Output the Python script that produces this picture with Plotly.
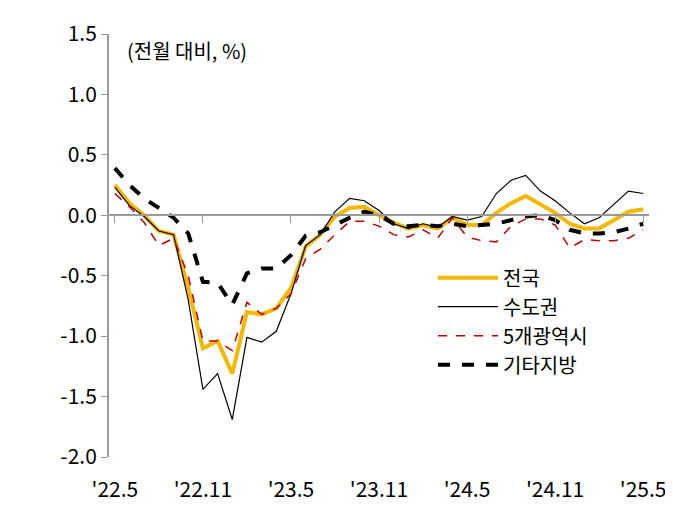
import plotly.graph_objects as go

months = list(range(37))
tick_pos = [0, 6, 12, 18, 24, 30, 36]
tick_text = ["'22.5", "'22.11", "'23.5", "'23.11", "'24.5", "'24.11", "'25.5"]
y_ticks = [-2.0, -1.5, -1.0, -0.5, 0.0, 0.5, 1.0, 1.5]
y_labels = ["-2.0", "-1.5", "-1.0", "-0.5", "0.0", "0.5", "1.0", "1.5"]

national = [0.25, 0.10, 0.0, -0.13, -0.16, -0.60, -1.10, -1.04, -1.31, -0.80, -0.82, -0.77, -0.60,
            -0.26, -0.16, -0.01, 0.06, 0.07, 0.0, -0.06, -0.11, -0.08, -0.11, -0.02, -0.08, -0.08,
            0.02, 0.10, 0.16, 0.09, 0.02, -0.07, -0.11, -0.11, -0.04, 0.03, 0.05]
capital = [0.23, 0.08, -0.01, -0.13, -0.16, -0.70, -1.44, -1.31, -1.69, -1.01, -1.05, -0.96, -0.65,
           -0.25, -0.16, 0.03, 0.14, 0.12, 0.04, -0.07, -0.11, -0.07, -0.10, -0.01, -0.04, -0.01,
           0.18, 0.29, 0.33, 0.20, 0.12, 0.02, -0.07, -0.02, 0.09, 0.20, 0.18]
metro = [0.18, 0.07, -0.06, -0.25, -0.19, -0.50, -1.04, -1.04, -1.12, -0.72, -0.82, -0.77, -0.65,
         -0.36, -0.28, -0.16, -0.05, -0.05, -0.09, -0.16, -0.18, -0.12, -0.19, -0.02, -0.18, -0.21,
         -0.22, -0.09, -0.03, -0.03, -0.08, -0.27, -0.20, -0.21, -0.21, -0.19, -0.12]
other = [0.39, 0.25, 0.14, 0.06, -0.02, -0.15, -0.55, -0.56, -0.74, -0.48, -0.44, -0.44, -0.33,
         -0.17, -0.14, -0.08, -0.02, 0.03, 0.0, -0.07, -0.09, -0.08, -0.09, -0.07, -0.09, -0.08,
         -0.07, -0.04, -0.01, 0.0, -0.04, -0.12, -0.15, -0.15, -0.14, -0.11, -0.07]

fig = go.Figure()
fig.add_trace(go.Scatter(x=months, y=national, name="전국", mode="lines",
                         line=dict(color="#F5B800", width=4)))
fig.add_trace(go.Scatter(x=months, y=capital, name="수도권", mode="lines",
                         line=dict(color="black", width=1.2)))
fig.add_trace(go.Scatter(x=months, y=metro, name="5개광역시", mode="lines",
                         line=dict(color="#C00000", width=1.5, dash="dash")))
fig.add_trace(go.Scatter(x=months, y=other, name="기타지방", mode="lines",
                         line=dict(color="black", width=4, dash="dash")))
fig.add_trace(go.Scatter(x=months, y=[None]*37, xaxis="x2", showlegend=False, hoverinfo="skip"))

fig.update_layout(
    width=673, height=510,
    margin=dict(l=101, r=32, t=26, b=61, autoexpand=False),
    paper_bgcolor="white", plot_bgcolor="white",
    font=dict(family="Noto Sans CJK KR", size=20, color="black"),
    showlegend=True,
    legend=dict(x=0.6, y=0.47, xanchor="left", yanchor="top", bgcolor="rgba(0,0,0,0)",
                font=dict(size=20), tracegroupgap=0, itemwidth=60),
    xaxis=dict(range=[-0.4, 36.4], tickvals=tick_pos, ticktext=tick_text, showline=False,
               showgrid=False, zeroline=False, ticks="outside", ticklen=14,
               tickcolor="rgba(0,0,0,0)", tickfont=dict(size=21), automargin=False),
    xaxis2=dict(range=[-0.4, 36.4], overlaying="x", anchor="free", position=2/3.5,
                tickvals=tick_pos, showticklabels=False, ticks="outside", ticklen=7,
                tickcolor="#999999", showline=True, linecolor="#999999", linewidth=2,
                showgrid=False, zeroline=False),
    yaxis=dict(range=[-2.0, 1.5], tickvals=y_ticks, ticktext=y_labels,
               showline=True, linecolor="#999999", linewidth=2,
               ticks="outside", tickcolor="#999999", ticklen=6, showgrid=False, zeroline=False,
               tickfont=dict(size=21), automargin=False),
    annotations=[dict(text="(전월 대비, %)", xref="paper", yref="paper", x=0.03, y=0.96,
                      xanchor="left", yanchor="middle", showarrow=False, font=dict(size=20))],
)
fig.write_html("out.html")
